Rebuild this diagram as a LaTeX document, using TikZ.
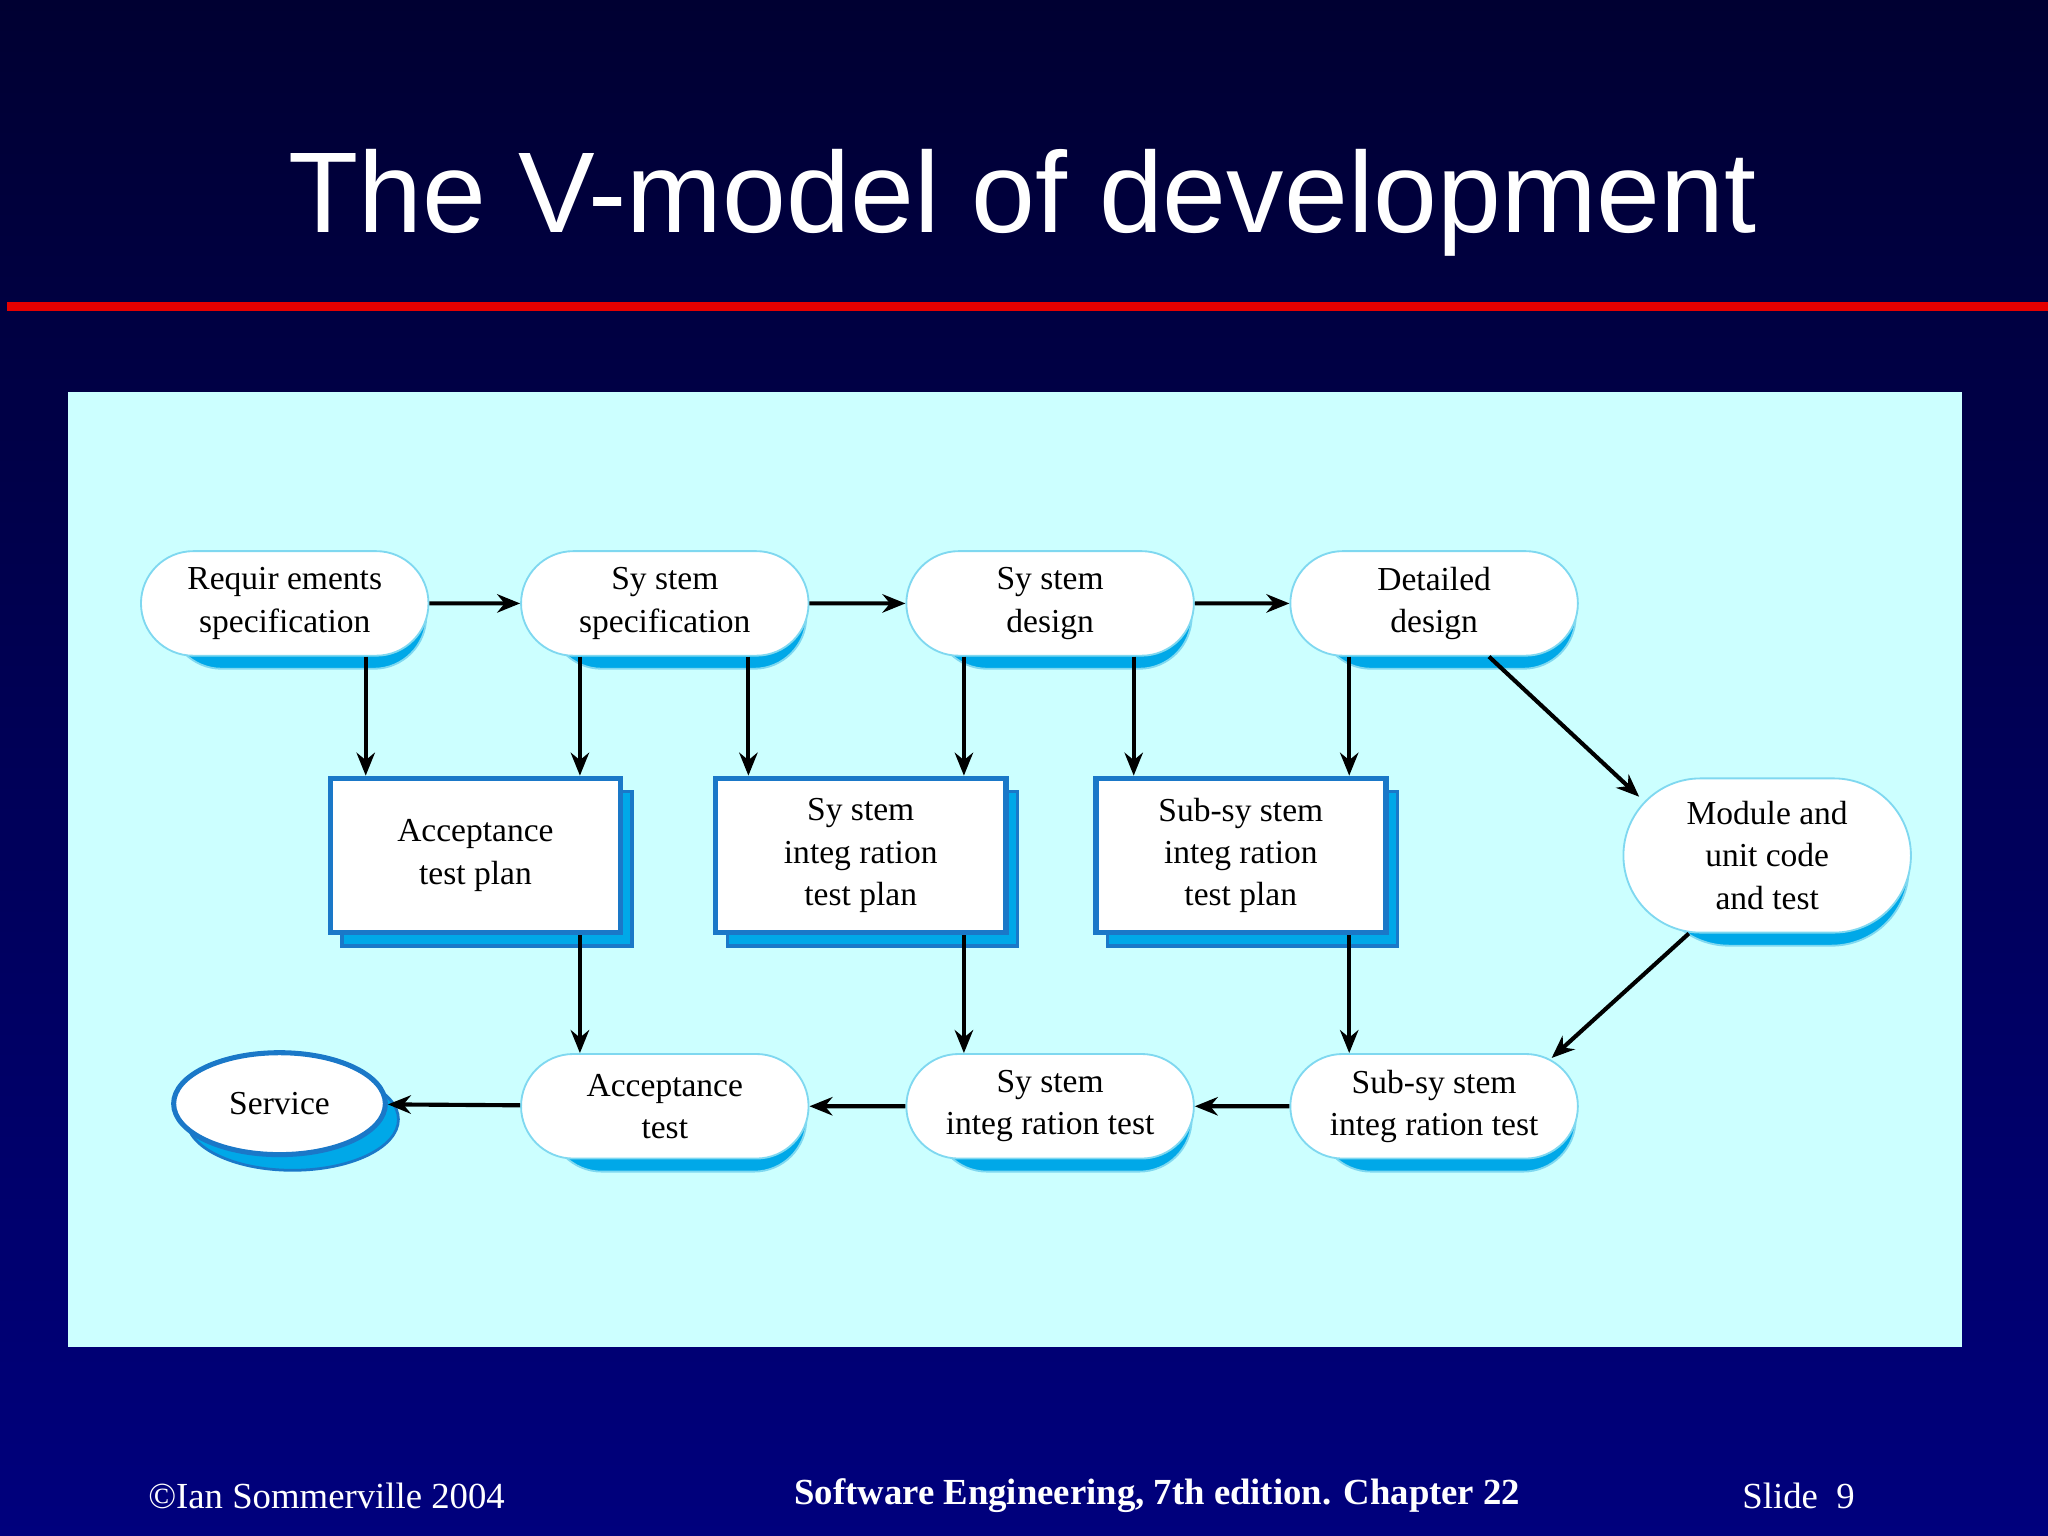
\documentclass[tikz,border=0pt]{standalone}
\usepackage{fontspec}
\setmainfont{Liberation Serif}
\newfontfamily\titlefont{Liberation Sans}
\usetikzlibrary{arrows.meta,shapes.misc,shapes.geometric}
\definecolor{panel}{HTML}{CCFFFF}
\definecolor{shad}{HTML}{00A8E8}
\definecolor{bord}{HTML}{1A78C8}
\definecolor{thin}{HTML}{7FD8F0}
\tikzset{
 pill/.style={rounded rectangle,minimum width=2.2cm,minimum height=0.8cm,fill=white,draw=thin,line width=0.4pt,align=center,font=\fontsize{7.3}{9.2}\selectfont,inner sep=0pt},
 pillsh/.style={rounded rectangle,minimum width=2.2cm,minimum height=0.8cm,fill=shad,draw=thin,line width=0.4pt},
 rbox/.style={rectangle,minimum width=2.22cm,minimum height=1.18cm,fill=white,draw=bord,line width=1.2pt,align=center,font=\fontsize{7.3}{9.2}\selectfont,inner sep=0pt},
 rboxsh/.style={rectangle,minimum width=2.22cm,minimum height=1.18cm,fill=shad,draw=bord,line width=0.8pt},
 arr/.style={-{Stealth[length=5pt,width=4pt]},line width=0.9pt,black}
}
\begin{document}
\begin{tikzpicture}[x=0.01cm,y=-0.01cm]
\shade[top color={rgb,255:red,0;green,0;blue,50},bottom color={rgb,255:red,0;green,0;blue,125}] (0,0) rectangle (1568,1176);
\useasboundingbox (0,0) rectangle (1568,1176);
\node[text=white,font=\titlefont\fontsize{25}{28}\selectfont] (title) at (783,155) {The V-model of development};
\fill[red!90!black] (5,231) rectangle (1568,238);
\fill[panel] (52,300) rectangle (1502,1031);
% shadows
\foreach \x/\y in {218/462,509/462,804/462,1098/462,509/847,804/847,1098/847}{\node[pillsh] at (\x+10,\y+10) {};}
\node[rounded rectangle,minimum width=2.2cm,minimum height=1.18cm,fill=shad,draw=thin] at (1363,665) {};
\foreach \x in {364,659,950}{\node[rboxsh] at (\x+9,665) {};}
\node[ellipse,minimum width=1.62cm,minimum height=0.78cm,fill=shad,draw=bord,line width=0.6pt] at (224,857) {};
% nodes
\node[pill] (rs) at (218,462) {Requir ements\\specification};
\node[pill] (ss) at (509,462) {Sy stem\\specification};
\node[pill] (sd) at (804,462) {Sy stem\\design};
\node[pill] (dd) at (1098,462) {Detailed\\design};
\node[rbox] (atp) at (364,655) {Acceptance\\test plan};
\node[rbox] (sitp) at (659,655) {Sy stem\\integ ration\\test plan};
\node[rbox] (ssitp) at (950,655) {Sub-sy stem\\integ ration\\test plan};
\node[rounded rectangle,minimum width=2.2cm,minimum height=1.18cm,fill=white,draw=thin,align=center,font=\fontsize{7.3}{9.2}\selectfont,inner sep=0pt] (mu) at (1353,655) {Module and\\unit code\\and test};
\node[ellipse,minimum width=1.62cm,minimum height=0.78cm,fill=white,draw=bord,line width=1.1pt,font=\fontsize{7.3}{9.2}\selectfont] (sv) at (214,845) {Service};
\node[pill] (at) at (509,847) {Acceptance\\test};
\node[pill] (sit) at (804,847) {Sy stem\\integ ration test};
\node[pill] (ssit) at (1098,847) {Sub-sy stem\\integ ration test};
\coordinate (c1) at (1255,610);
\coordinate (c2) at (1188,810);
% arrows
\draw[arr] (rs) -- (ss);
\draw[arr] (ss) -- (sd);
\draw[arr] (sd) -- (dd);
\draw[arr] (rs.south -| 280,0) -- (atp.north -| 280,0);
\draw[arr] (ss.south -| 444,0) -- (atp.north -| 444,0);
\draw[arr] (ss.south -| 573,0) -- (sitp.north -| 573,0);
\draw[arr] (sd.south -| 738,0) -- (sitp.north -| 738,0);
\draw[arr] (sd.south -| 868,0) -- (ssitp.north -| 868,0);
\draw[arr] (dd.south -| 1033,0) -- (ssitp.north -| 1033,0);
\draw[arr] (atp.south -| 444,0) -- (at.north -| 444,0);
\draw[arr] (sitp.south -| 738,0) -- (sit.north -| 738,0);
\draw[arr] (ssitp.south -| 1033,0) -- (ssit.north -| 1033,0);
\draw[arr] (dd.south -| 1140,0) -- (c1);
\draw[arr] (mu.south -| 1293,0) -- (c2);
\draw[arr] (ssit) -- (sit);
\draw[arr] (sit) -- (at);
\draw[arr] (at) -- (sv);
% footer
\node[text=white,font=\fontsize{8}{9}\selectfont] (f1) at (250,1145) {©Ian Sommerville 2004};
\node[text=white,font=\bfseries\fontsize{8}{9}\selectfont] (f2) at (886,1145) {Software Engineering, 7th edition. Chapter 22};
\node[text=white,font=\fontsize{8}{9}\selectfont] (f3) at (1377,1145) {Slide\ \ 9};
\end{tikzpicture}
\end{document}
